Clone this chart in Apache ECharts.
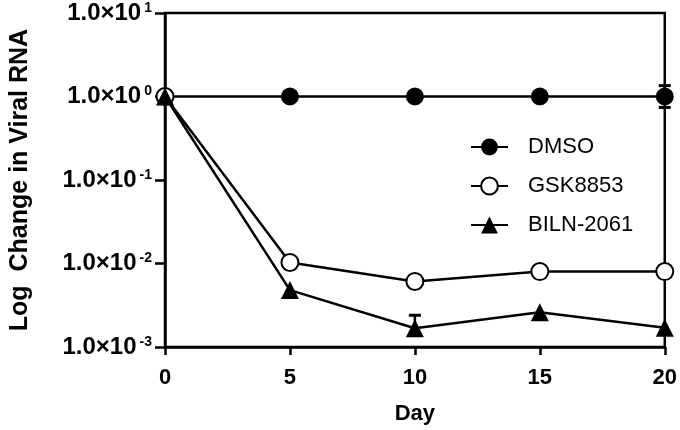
<!DOCTYPE html>
<html>
<head>
<meta charset="utf-8">
<script src="https://cdn.jsdelivr.net/npm/echarts@6/dist/echarts.min.js"></script>
<style>html,body{margin:0;padding:0;background:#fff;}#c{width:680px;height:430px;}</style>
</head>
<body>
<div id="c"></div>
<script>
var days = [0, 5, 10, 15, 20];
var seriesNames = ['DMSO', 'GSK8853', 'BILN-2061'];
var dmso = [1, 1, 1, 1, 1];
var gsk8853 = [1, 0.0103, 0.0061, 0.0080, 0.0080];
var biln2061 = [1, 0.0048, 0.00168, 0.0026, 0.0017];
// error bars: [day, value, upper, lower]
var dmsoErr = [[20, 1, 1.35, 0.74]];
var bilnErr = [[10, 0.00168, 0.0024, 0.00168]];
var xTicks = [0, 5, 10, 15, 20];
var yMin = 0.001, yMax = 10;

var FONT = 'Arial, "Liberation Sans", Helvetica, sans-serif';

function pairs(vals) { return days.map(function (d, i) { return [d, vals[i]]; }); }

function errRender(params, api) {
  var x = api.value(0), y = api.value(1), hi = api.value(2), lo = api.value(3);
  var pHi = api.coord([x, hi]), pLo = api.coord([x, lo]);
  var cw = 6;
  var st = { stroke: '#000', lineWidth: 3 };
  var children = [{ type: 'line', shape: { x1: pHi[0], y1: pHi[1], x2: pLo[0], y2: pLo[1] }, style: { stroke: '#000', lineWidth: 2.5 } }];
  if (hi !== y) children.push({ type: 'line', shape: { x1: pHi[0] - cw, y1: pHi[1], x2: pHi[0] + cw, y2: pHi[1] }, style: st });
  if (lo !== y) children.push({ type: 'line', shape: { x1: pLo[0] - cw, y1: pLo[1], x2: pLo[0] + cw, y2: pLo[1] }, style: st });
  return { type: 'group', children: children };
}

var chart = echarts.init(document.getElementById('c'), null, { renderer: 'canvas' });
chart.setOption({
  backgroundColor: '#fff',
  animation: false,
  grid: { left: 157, right: 13, top: 12, bottom: 81, show: true, borderColor: '#000', borderWidth: 2.5, backgroundColor: 'transparent' },
  legend: {
    orient: 'vertical', left: 465, top: 131, itemWidth: 37, itemHeight: 21, itemGap: 17,
    data: seriesNames,
    textStyle: { fontFamily: FONT, fontSize: 22, color: '#000', padding: [0, 0, 0, 15] }
  },
  xAxis: {
    type: 'value', min: 0, max: 20, interval: 5,
    name: 'Day', nameLocation: 'middle', nameGap: 56,
    nameTextStyle: { fontFamily: FONT, fontSize: 22, fontWeight: 'bold', color: '#000' },
    axisLine: { lineStyle: { color: '#000', width: 2.5 } },
    axisTick: { length: 8, lineStyle: { color: '#000', width: 2.5 } },
    axisLabel: { fontFamily: FONT, fontSize: 22, fontWeight: 'bold', color: '#000', margin: 20,
      formatter: function (v) { return xTicks.indexOf(v) >= 0 ? String(v) : ''; } },
    splitLine: { show: false }
  },
  yAxis: {
    type: 'log', logBase: 10, min: yMin, max: yMax,
    name: 'Log  Change in Viral RNA', nameLocation: 'middle', nameGap: 132,
    nameTextStyle: { fontFamily: FONT, fontSize: 25, fontWeight: 'bold', color: '#000' },
    axisLine: { lineStyle: { color: '#000', width: 2.5 } },
    axisTick: { length: 10, lineStyle: { color: '#000', width: 2.5 } },
    minorTick: { show: false },
    splitLine: { show: false },
    axisLabel: {
      margin: 13,
      formatter: function (v) {
        var e = Math.round(Math.log(v) / Math.LN10);
        return '{b|1.0\u00d710}{s|' + e + '}';
      },
      rich: {
        b: { fontFamily: FONT, fontSize: 24, fontWeight: 'bold', color: '#000', lineHeight: 26 },
        s: { fontFamily: FONT, fontSize: 14, fontWeight: 'bold', color: '#000', verticalAlign: 'top', padding: [1, 0, 0, 3], lineHeight: 26 }
      }
    }
  },
  series: [
    { name: 'DMSO', type: 'line', data: pairs(dmso), symbol: 'circle', symbolSize: 18, clip: false,
      itemStyle: { color: '#000' }, lineStyle: { color: '#000', width: 2.5 }, z: 3 },
    { name: 'GSK8853', type: 'line', data: pairs(gsk8853), symbol: 'emptyCircle', symbolSize: 17, clip: false,
      itemStyle: { color: '#000', borderWidth: 2.5 }, lineStyle: { color: '#000', width: 2.5 }, z: 4 },
    { name: 'BILN-2061', type: 'line', data: pairs(biln2061), symbol: 'triangle', symbolSize: 18, clip: false,
      itemStyle: { color: '#000' }, lineStyle: { color: '#000', width: 2.5 }, z: 5 },
    { type: 'custom', renderItem: errRender, data: dmsoErr, clip: false, z: 2, silent: true },
    { type: 'custom', renderItem: errRender, data: bilnErr, clip: false, z: 2, silent: true }
  ]
});
</script>
</body>
</html>
